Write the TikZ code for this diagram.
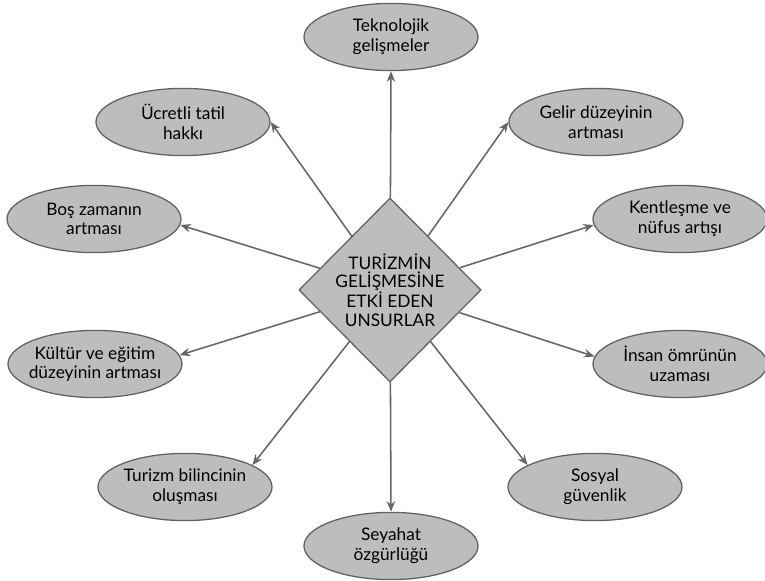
\documentclass[tikz,border=0pt]{standalone}
\usepackage{fontspec}
\setmainfont{Lato}
\usetikzlibrary{shapes.geometric,arrows.meta}
\definecolor{boxfill}{gray}{0.74}
\definecolor{boxline}{gray}{0.38}
\definecolor{linkgray}{gray}{0.40}
\begin{document}
\begin{tikzpicture}[
    factor/.style={ellipse, draw=boxline, fill=boxfill, line width=0.9pt,
                   minimum width=4.35cm, minimum height=1.68cm,
                   inner xsep=-10pt, inner ysep=0pt, align=center,
                   font=\fontsize{12.3}{14}\selectfont},
    core/.style={diamond, draw=boxline, fill=boxfill, line width=0.9pt,
                 minimum width=4.5cm, minimum height=4.6cm, inner sep=0pt,
                 align=center, font=\fontsize{12.3}{13.2}\selectfont},
    link/.style={linkgray, line width=1.1pt, -{Stealth[length=7.5pt,width=6pt]}}
]
    \useasboundingbox (0,0) rectangle (19.125,14.525);

    \node[core] (dia) at (9.75,7.275) {TURİZMİN\\GELİŞMESİNE\\ETKİ EDEN\\UNSURLAR};

    \node[factor] (tek) at (9.775,13.6)  {Teknolojik\\gelişmeler};
    \node[factor] (ucr) at (4.575,11.475) {Ücretli tatil\\hakkı};
    \node[factor] (gel) at (14.9,11.475)  {Gelir düzeyinin\\artması};
    \node[factor] (bos) at (2.35,9.05)    {Boş zamanın\\artması};
    \node[factor] (ken) at (17.0,9.05)    {Kentleşme ve\\nüfus artışı};
    \node[factor] (kul) at (2.375,5.425)  {Kültür ve eğitim\\düzeyinin artması};
    \node[factor] (ins) at (17.0,5.425)   {İnsan ömrünün\\uzaması};
    \node[factor] (tur) at (4.625,2.35)   {Turizm bilincinin\\oluşması};
    \node[factor] (sos) at (14.875,2.35)  {Sosyal\\güvenlik};
    \node[factor] (sey) at (9.775,0.875)  {Seyahat\\özgürlüğü};

    \draw[link] (dia) -- (tek.south);
    \draw[link] (dia) -- (ucr.east);
    \draw[link] (dia) -- (gel.west);
    \draw[link] (dia) -- (bos.-4);
    \draw[link] (dia) -- (ken.184);
    \draw[link] (dia) -- (kul.6);
    \draw[link] (dia) -- (ins.175);
    \draw[link] (dia) -- (tur.18);
    \draw[link] (dia) -- (sos.162);
    \draw[link] (dia) -- (sey.north);
\end{tikzpicture}
\end{document}
